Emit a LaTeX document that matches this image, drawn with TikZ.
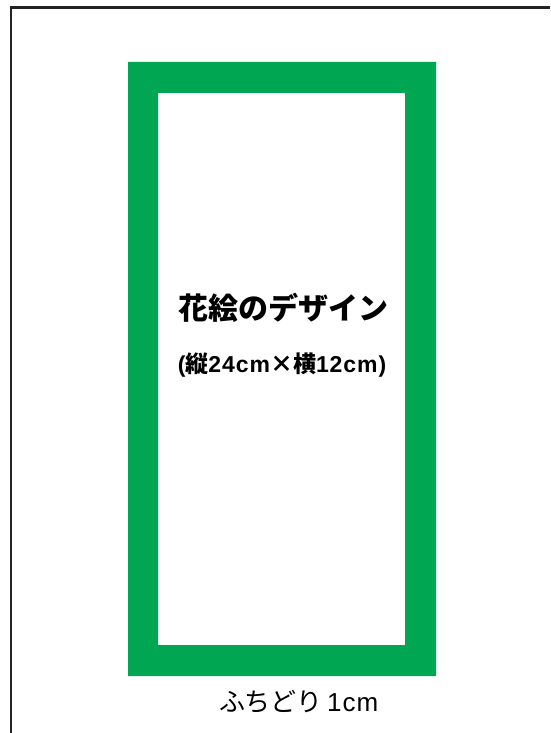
\documentclass[tikz,border=0pt]{standalone}
\usepackage{fontspec}
\newfontfamily\jpfont{Noto Sans CJK JP}
\newfontfamily\latinfont{Liberation Sans}[LetterSpace=4]
\definecolor{ribbongreen}{HTML}{00A651}
\definecolor{framegray}{HTML}{222222}

\begin{document}
\begin{tikzpicture}[x=1pt,y=-1pt]
\tikzstyle{every node}+=[inner sep=0pt]
\useasboundingbox (0,0) rectangle (550,733);
\draw [framegray, line width=2.4pt] (11,733) -- (11,7.5) -- (550,7.5);
\fill [ribbongreen, even odd rule] (128,62) rectangle (436,676) (158,93) rectangle (405,645);
\node (title) at (283,308) {\jpfont\bfseries\fontsize{30}{32}\selectfont 花絵のデザイン};
\node (size) at (282,365) {\bfseries\fontsize{23}{26}\selectfont
  {\latinfont(}{\jpfont 縦}{\latinfont 24cm}{\jpfont ×横}{\latinfont 12cm)}};
\node (edge) at (299,702) {\fontsize{26}{30}\selectfont {\jpfont ふちどり}\,{\latinfont 1cm}};
\end{tikzpicture}
\end{document}
